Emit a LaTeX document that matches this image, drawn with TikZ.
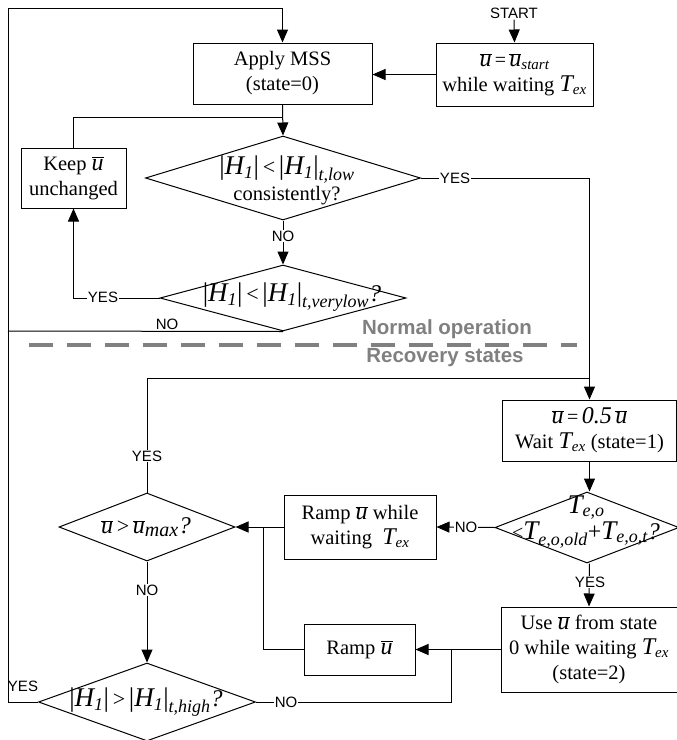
\documentclass[tikz,border=0pt]{standalone}
\usepackage{fontspec}
\setmainfont{Liberation Serif}
\newfontfamily\lsans{Liberation Sans}
\usetikzlibrary{arrows.meta,shapes.geometric}
\newcommand\V[1]{\hbox{\fontsize{24}{24}\selectfont\itshape #1}}
\newcommand\VH[1]{\hbox{\fontsize{27}{27}\selectfont\itshape #1}}
\newcommand\Sb[1]{\hbox{\fontsize{15}{15}\selectfont\itshape #1}}
\newcommand\Sh[1]{\hbox{\fontsize{18}{18}\selectfont\itshape #1}}
\newcommand\ub{\overline{\V{u}}}
\newcommand\vb{\hbox{\fontsize{27}{27}\selectfont|}}
\newcommand\tsym[1]{\hbox{\fontsize{20}{20}\selectfont #1}}
\newcommand\rel[1]{\hbox{\fontsize{22}{22}\selectfont\,#1\,}}
\tikzset{
  box/.style={draw, line width=1pt, rectangle, align=center, inner sep=0pt,
    font=\fontsize{20.5}{25}\selectfont},
  dia/.style={draw, diamond, line width=1pt, inner sep=0pt},
  dtext/.style={align=center, inner sep=0pt, font=\fontsize{20.5}{25}\selectfont},
  lbl/.style={font=\lsans\fontsize{15}{15}\selectfont, fill=white, inner sep=1pt},
  arr/.style={-{Triangle[length=13pt,width=11pt]}},
  conn/.style={line width=1pt},
  sect/.style={font=\lsans\bfseries\fontsize{20.5}{22}\selectfont, text=black!50},
}
\begin{document}
\begin{tikzpicture}[x=1pt,y=-1pt]
\useasboundingbox (0,0) rectangle (677,740);

% boxes
\node[box, minimum width=179pt, minimum height=61pt] (mss) at (282.5,73.5) {Apply MSS\\(state=0)};
\node[box, minimum width=157pt, minimum height=63pt] (startbox) at (514.5,74.5)
  {$\ub\tsym{\,=\,}\ub_{\Sb{start}}$\\while waiting $\V{T}_{\Sb{ex}}$};
\node[lbl, fill=none] (starttxt) at (514,13) {START};
\node[box, minimum width=105pt, minimum height=60pt] (keep) at (73.5,178) {Keep $\ub$\\unchanged};
\node[box, minimum width=174pt, minimum height=61pt] (rec1) at (589.5,430.5)
  {$\ub\,\tsym{=}\,\V{0.5}\,\ub$\\Wait $\V{T}_{\Sb{ex}}$ (state=1)};
\node[box, minimum width=152pt, minimum height=64pt] (ramp1) at (360,527)
  {Ramp $\ub$ while\\waiting \ $\V{T}_{\Sb{ex}}$};
\node[box, minimum width=111pt, minimum height=51pt] (ramp2) at (359.5,649.5) {Ramp $\ub$};
\node[box, minimum width=176pt, minimum height=85pt] (use) at (589,649.5)
  {Use $\ub$ from state\\0 while waiting $\V{T}_{\Sb{ex}}$\\(state=2)};

% diamonds
\node[dia, minimum width=275pt, minimum height=84pt] (d1) at (283,178) {};
\node[dtext] (d1t) at (287,180) {$\vb\VH{H}_{\Sh{1}}\vb\rel{<}\vb\VH{H}_{\Sh{1}}\vb_{\Sh{t,low}}$\\[1pt]consistently?};
\node[dia, minimum width=246pt, minimum height=66pt] (d2) at (283,298) {};
\node[dtext] (d2t) at (292,297) {$\vb\VH{H}_{\Sh{1}}\vb\rel{<}\vb\VH{H}_{\Sh{1}}\vb_{\Sh{t,verylow}}\V{?}$};
\node[dia, minimum width=176pt, minimum height=68pt] (d3) at (147,527) {};
\node[dtext] (d3t) at (146,527) {$\ub\rel{>}\ub_{\hbox{\fontsize{20}{20}\selectfont\itshape max}}\V{?}$};
\node[dia, minimum width=184pt, minimum height=71pt] (d4) at (587,527.5) {};
\node[dtext] (d4t) at (586,522) {$\VH{T}_{\Sh{e,o}}$\\[1pt]$\tsym{<}\VH{T}_{\Sh{e,o,old}}\hbox{\fontsize{24}{24}\selectfont+}\VH{T}_{\Sh{e,o,t}}\V{?}$};
\node[dia, minimum width=217pt, minimum height=78pt] (d5) at (147,702) {};
\node[dtext] (d5t) at (146,702) {$\vb\VH{H}_{\Sh{1}}\vb\rel{>}\vb\VH{H}_{\Sh{1}}\vb_{\Sh{t,high}}\V{?}$};

% helper coordinates
\coordinate (lb) at (8,702);
\coordinate (lt) at (8,8);
\coordinate (j1) at (283,117);
\coordinate (j2) at (590,378);
\coordinate (j3) at (451,650);
\coordinate (j4) at (263,527);
\coordinate (nol) at (8,331);

% connectors
\draw[conn,arr] (starttxt.south) -- (startbox.north);
\draw[conn,arr] (startbox.west) -- (startbox.west -| mss.east);
\draw[conn,arr] (mss.south) -- (d1.north);
\draw[conn] (keep.north) |- (j1);
\draw[conn,arr] (d1.east) -| (rec1.north);
\draw[conn,arr] (d1.south) -- (d2.north);
\draw[conn,arr] (d2.west) -| (keep.south);
\draw[conn] (d2.south) -- (nol);
\draw[conn,arr] (d5.west) -- (lb) -- (lt) -| (mss.north);
\draw[conn,arr] (rec1.south) -- (rec1.south |- d4.north);
\draw[conn,arr] (d4.west) -- (ramp1.east);
\draw[conn,arr] (rec1.south |- d4.south) -- (use.north);
\draw[conn,arr] (ramp1.west) -- (d3.east);
\draw[conn] (d3.north) |- (j2);
\draw[conn,arr] (d3.south) -- (d5.north);
\draw[conn,arr] (use.west) -- (ramp2.east);
\draw[conn] (d5.east) -| (j3);
\draw[conn] (ramp2.west) -| (j4);

% labels on connectors
\node[lbl] (l1) at (455,178) {YES};
\node[lbl] (l2) at (283,236) {NO};
\node[lbl] (l3) at (103,297) {YES};
\node[lbl, anchor=south, inner ysep=0pt] (l4) at (167,330) {NO};
\node[lbl] (l5) at (147,456) {YES};
\node[lbl] (l6) at (466,527) {NO};
\node[lbl] (l7) at (590,582) {YES};
\node[lbl] (l8) at (147,590) {NO};
\node[lbl, fill=none] (l9) at (23,686) {YES};
\node[lbl] (l10) at (286,702) {NO};

% section separator
\draw[black!50, line width=3.5pt, dash pattern=on 24pt off 14pt] (29,345) -- (577,345);
\node[sect] (normal) at (447,329) {Normal operation};
\node[sect] (recov) at (445,358) {Recovery states};
\end{tikzpicture}
\end{document}
